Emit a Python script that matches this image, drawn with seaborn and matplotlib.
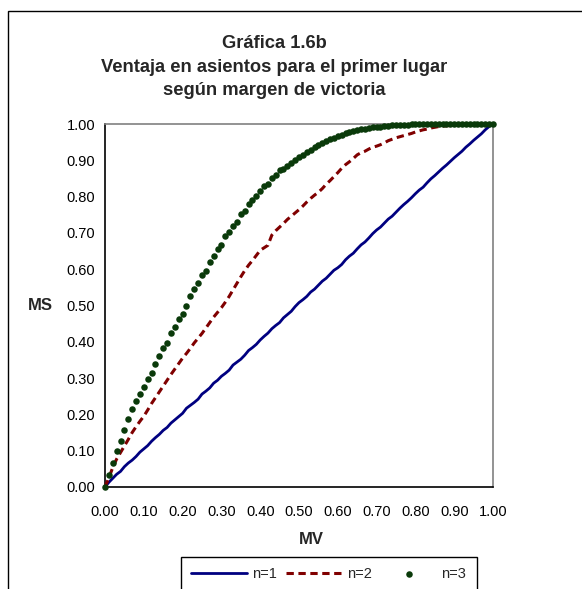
import numpy as np
import pandas as pd
import matplotlib
matplotlib.use("Agg")
import matplotlib.pyplot as plt
from matplotlib.patches import Rectangle
import seaborn as sns

# ---------------- data ----------------
mv = [round(i * 0.01, 2) for i in range(101)]

ms_n1 = [0.000, 0.013, 0.024, 0.035, 0.043, 0.056, 0.066, 0.074, 0.084, 0.096,
         0.105, 0.114, 0.126, 0.136, 0.145, 0.156, 0.164, 0.176, 0.185, 0.194,
         0.203, 0.217, 0.225, 0.233, 0.242, 0.256, 0.264, 0.273, 0.286, 0.294,
         0.305, 0.313, 0.322, 0.336, 0.344, 0.352, 0.363, 0.376, 0.384, 0.393,
         0.405, 0.415, 0.424, 0.436, 0.445, 0.453, 0.466, 0.475, 0.484, 0.497,
         0.508, 0.516, 0.525, 0.537, 0.545, 0.556, 0.567, 0.575, 0.586, 0.597,
         0.604, 0.613, 0.626, 0.636, 0.644, 0.656, 0.667, 0.675, 0.686, 0.698,
         0.708, 0.716, 0.727, 0.738, 0.746, 0.757, 0.768, 0.778, 0.787, 0.797,
         0.808, 0.818, 0.826, 0.838, 0.849, 0.858, 0.868, 0.878, 0.887, 0.897,
         0.907, 0.916, 0.925, 0.936, 0.945, 0.955, 0.964, 0.973, 0.984, 0.993,
         1.000]

ms_n2 = [0.000, 0.025, 0.054, 0.077, 0.095, 0.113, 0.131, 0.150, 0.166, 0.181,
         0.195, 0.212, 0.230, 0.246, 0.262, 0.278, 0.294, 0.310, 0.325, 0.340,
         0.355, 0.368, 0.382, 0.397, 0.410, 0.423, 0.438, 0.453, 0.468, 0.481,
         0.494, 0.509, 0.525, 0.543, 0.561, 0.579, 0.596, 0.611, 0.624, 0.638,
         0.652, 0.659, 0.666, 0.694, 0.706, 0.716, 0.726, 0.737, 0.746, 0.755,
         0.764, 0.774, 0.785, 0.795, 0.804, 0.812, 0.822, 0.834, 0.844, 0.855,
         0.866, 0.878, 0.888, 0.896, 0.905, 0.915, 0.921, 0.925, 0.931, 0.936,
         0.939, 0.943, 0.948, 0.954, 0.958, 0.962, 0.965, 0.968, 0.971, 0.974,
         0.978, 0.981, 0.984, 0.986, 0.989, 0.991, 0.993, 0.994, 0.995, 0.996,
         0.997, 0.998, 0.998, 0.999, 0.999, 0.999, 1.000, 1.000, 1.000, 1.000,
         1.000]

ms_n3 = [0.000, 0.033, 0.066, 0.098, 0.128, 0.157, 0.187, 0.215, 0.237, 0.257,
         0.275, 0.297, 0.315, 0.339, 0.361, 0.382, 0.398, 0.424, 0.441, 0.462,
         0.477, 0.499, 0.525, 0.545, 0.563, 0.584, 0.596, 0.620, 0.637, 0.655,
         0.667, 0.691, 0.703, 0.719, 0.731, 0.751, 0.760, 0.780, 0.792, 0.801,
         0.815, 0.830, 0.836, 0.850, 0.860, 0.872, 0.876, 0.884, 0.893, 0.901,
         0.909, 0.915, 0.922, 0.929, 0.936, 0.942, 0.948, 0.954, 0.958, 0.962,
         0.966, 0.970, 0.974, 0.977, 0.980, 0.983, 0.985, 0.987, 0.989, 0.991,
         0.992, 0.993, 0.994, 0.995, 0.996, 0.997, 0.997, 0.998, 0.998, 0.999,
         0.999, 0.999, 0.999, 1.000, 0.999, 1.000, 1.000, 1.000, 0.999, 1.000,
         1.000, 1.000, 1.000, 1.000, 1.000, 1.000, 1.000, 1.000, 1.000, 1.000,
         1.000]

series_labels = ["n=1", "n=2", "n=3"]
y_ticks = [round(i * 0.1, 1) for i in range(11)]
x_ticks = [round(i * 0.1, 1) for i in range(11)]

title_text = "Gráfica 1.6b\nVentaja en asientos para el primer lugar\nsegún margen de victoria"
xlabel_text = "MV"
ylabel_text = "MS"

# ---------------- style ----------------
sns.set_style("white")
plt.rcParams["font.family"] = ["Liberation Sans", "DejaVu Sans"]

W, H = 582, 589
fig = plt.figure(figsize=(W / 100, H / 100), dpi=100)
fig.patch.set_facecolor("white")

left_px, right_px, top_px, bottom_px = 105.0, 493.0, 124.0, 487.0
ax = fig.add_axes([left_px / W, 1 - bottom_px / H,
                   (right_px - left_px) / W, (bottom_px - top_px) / H])

df1 = pd.DataFrame({"MV": mv, "MS": ms_n1})
df2 = pd.DataFrame({"MV": mv, "MS": ms_n2})
df3 = pd.DataFrame({"MV": mv, "MS": ms_n3})

sns.lineplot(data=df1, x="MV", y="MS", ax=ax, color="#000080", lw=2.0,
             label=series_labels[0], clip_on=False, zorder=3)
sns.lineplot(data=df2, x="MV", y="MS", ax=ax, color="#800000", lw=2.2,
             label=series_labels[1], clip_on=False, zorder=4,
             dashes=False)
ax.lines[-1].set_dashes([2.4, 1.5])
sns.scatterplot(data=df3, x="MV", y="MS", ax=ax, color="#0a3a0a", s=22,
                linewidth=0, label=series_labels[2], clip_on=False, zorder=5)

ax.set_xlim(0, 1)
ax.set_ylim(0, 1)
ax.set_xticks(x_ticks)
ax.set_yticks(y_ticks)
ax.set_xticklabels([f"{v:.2f}" for v in x_ticks])
ax.set_yticklabels([f"{v:.2f}" for v in y_ticks])
ax.tick_params(axis="both", which="major", direction="out", length=4,
               width=1.0, color="black", labelsize=10.5, labelcolor="black")
ax.tick_params(axis="y", pad=3)
ax.tick_params(axis="x", pad=9)

for side in ["left", "bottom"]:
    ax.spines[side].set_color("black")
    ax.spines[side].set_linewidth(1.2)
for side in ["top", "right"]:
    ax.spines[side].set_color("#808080")
    ax.spines[side].set_linewidth(1.2)
ax.grid(False)

ax.set_xlabel(xlabel_text, fontsize=12, fontweight="bold", va="center")
ax.set_ylabel(ylabel_text, fontsize=12, fontweight="bold", rotation=0,
              ha="center", va="center")
ax.xaxis.set_label_coords((311 - left_px) / (right_px - left_px),
                          (bottom_px - 540) / (bottom_px - top_px))
ax.yaxis.set_label_coords((40 - left_px) / (right_px - left_px), 0.5)

fig.text(274 / W, 1 - 67 / H, title_text, ha="center", va="center",
         fontsize=13.2, fontweight="bold", linespacing=1.5)

handles, labels = ax.get_legend_handles_labels()
ax.get_legend().remove()
leg = fig.legend(handles, labels, loc="upper left",
                 bbox_to_anchor=(181 / W, 1 - 556.5 / H), ncol=3,
                 fontsize=10.5, frameon=True, fancybox=False,
                 edgecolor="black", framealpha=1, borderaxespad=0,
                 borderpad=0.7, handlelength=3.8, handletextpad=0.35,
                 columnspacing=0.65, scatterpoints=1)
leg.get_frame().set_linewidth(1.0)

# outer chart border (cropped at right and bottom)
fig.add_artist(Rectangle((8 / W, -0.5), 2.0, (1 - 11 / H) + 0.5,
                         transform=fig.transFigure, fill=False,
                         edgecolor="black", lw=1.0, clip_on=False))

fig.savefig("out.png", dpi=100, facecolor="white")
